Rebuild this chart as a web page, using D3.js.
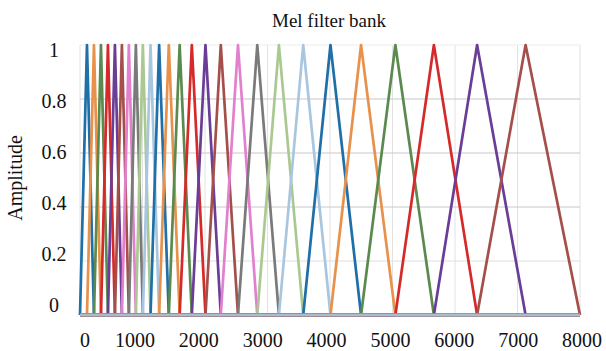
<!DOCTYPE html>
<html>
<head>
<meta charset="utf-8">
<script src="https://cdn.jsdelivr.net/npm/d3@7"></script>
<style>
  body { margin: 0; background: #fff; }
  svg { display: block; }
  text { font-family: "Liberation Serif", "Times New Roman", "DejaVu Serif", serif; }
</style>
</head>
<body>
<svg id="chart" width="606" height="351"></svg>
<script>
// band edges (Hz) of the 26 triangular filters
const edges = [0, 111.7, 223.4, 335.2, 446.9, 558.6, 670.3, 782.0, 893.7, 1005.6,
  1128.4, 1266.2, 1420.9, 1594.4, 1789.1, 2007.5, 2252.7, 2527.7, 2836.4, 3182.7,
  3571.4, 4007.5, 4496.9, 5046.0, 5662.2, 6353.6, 7129.4, 8000];
// shape of one filter: amplitude at [start, low edge, centre, high edge, end]
const amps = [0, 0, 1, 0, 0];
const xTicks = [0, 1000, 2000, 3000, 4000, 5000, 6000, 7000, 8000];
const yTicks = [0, 0.2, 0.4, 0.6, 0.8, 1];
const yTickLabels = ['0', '0.2', '0.4', '0.6', '0.8', '1'];
const colors = ['#1f6fa8', '#e8914a', '#5b8a4e', '#d42a2a', '#6a3d96',
  '#a54f4a', '#e27fcf', '#7a7a7a', '#a9c991', '#a9c6e0'];

const svg = d3.select('#chart');
const plot = { left: 80, right: 580, top: 45, bottom: 315 };

const x = d3.scaleLinear().domain([0, 8000]).range([plot.left, plot.right]);
const y = d3.scaleLinear().domain([0, 1]).range([plot.bottom, plot.top]);
// label placement in the source image is a bit off the grid
const xLab = d3.scaleLinear().domain([0, 1000, 8000]).range([85, 135, 582]);
const yLab = d3.scaleLinear().domain([0, 1]).range([305, 50]);

// grid
svg.append('g').selectAll('line')
  .data(xTicks)
  .enter().append('line')
  .attr('x1', d => x(d)).attr('x2', d => x(d))
  .attr('y1', plot.top).attr('y2', plot.bottom)
  .style('stroke', '#e2e2e2').style('stroke-width', 1);

svg.append('g').selectAll('line')
  .data(yTicks.filter(d => d > 0))
  .enter().append('line')
  .attr('x1', plot.left).attr('x2', plot.right)
  .attr('y1', d => y(d)).attr('y2', d => y(d))
  .style('stroke', d => d === 1 ? '#ececec' : (d === 0.2 ? '#dedede' : '#c8c8c8'))
  .style('stroke-width', 1);

// filters
const filters = d3.range(edges.length - 2).map(i => {
  const f = [0, edges[i], edges[i + 1], edges[i + 2], 8000];
  return f.map((hz, k) => ({ hz: hz, a: amps[k] }));
});

const line = d3.line()
  .x(d => x(d.hz))
  .y(d => y(d.a));

svg.append('g').selectAll('path')
  .data(filters)
  .enter().append('path')
  .attr('d', line)
  .style('fill', 'none')
  .style('stroke', (d, i) => colors[i % colors.length])
  .style('stroke-width', 2.7)
  .style('stroke-linejoin', 'round');

// zero line where all the filters overlap
svg.append('line')
  .attr('x1', x(0)).attr('x2', x(8000))
  .attr('y1', y(0)).attr('y2', y(0))
  .style('stroke', '#a9bccb')
  .style('stroke-width', 3);

// tick labels
svg.append('g').selectAll('text')
  .data(xTicks)
  .enter().append('text')
  .attr('x', d => xLab(d))
  .attr('y', 347)
  .attr('text-anchor', 'middle')
  .style('font-size', '20px')
  .style('fill', '#111')
  .text(d => d);

svg.append('g').selectAll('text')
  .data(yTicks)
  .enter().append('text')
  .attr('x', 54)
  .attr('y', d => yLab(d) + 7)
  .attr('text-anchor', 'middle')
  .style('font-size', '20px')
  .style('fill', '#111')
  .text((d, i) => yTickLabels[i]);

// titles
svg.append('text')
  .attr('x', 329).attr('y', 27)
  .attr('text-anchor', 'middle')
  .style('font-size', '19px')
  .style('fill', '#111')
  .text('Mel filter bank');

svg.append('text')
  .attr('transform', 'translate(22,178) rotate(-90)')
  .attr('text-anchor', 'middle')
  .style('font-size', '20px')
  .style('fill', '#111')
  .text('Amplitude');
</script>
</body>
</html>
